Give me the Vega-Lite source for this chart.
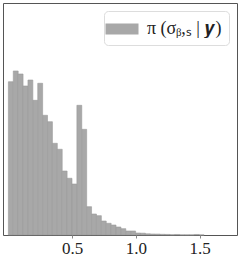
{
  "$schema": "https://vega.github.io/schema/vega-lite/v6.json",
  "width": 234,
  "height": 232,
  "autosize": "none",
  "padding": {"left": 3, "top": 3, "right": 4, "bottom": 22},
  "background": "white",
  "config": {
    "font": "Liberation Serif",
    "view": {"stroke": "#555555", "strokeWidth": 1},
    "axis": {"labelFont": "Liberation Serif", "labelFontSize": 17, "labelColor": "#222222"},
    "legend": {"labelFont": "Liberation Serif"}
  },
  "data": {
    "values": [
      {"b0": 0.0, "b1": 0.0384, "d": 2.643, "series": "posterior"},
      {"b0": 0.0384, "b1": 0.0768, "d": 2.828, "series": "posterior"},
      {"b0": 0.0768, "b1": 0.1152, "d": 2.776, "series": "posterior"},
      {"b0": 0.1152, "b1": 0.1536, "d": 2.569, "series": "posterior"},
      {"b0": 0.1536, "b1": 0.192, "d": 2.672, "series": "posterior"},
      {"b0": 0.192, "b1": 0.2304, "d": 2.322, "series": "posterior"},
      {"b0": 0.2304, "b1": 0.2688, "d": 2.616, "series": "posterior"},
      {"b0": 0.2688, "b1": 0.3072, "d": 2.064, "series": "posterior"},
      {"b0": 0.3072, "b1": 0.3456, "d": 1.953, "series": "posterior"},
      {"b0": 0.3456, "b1": 0.384, "d": 1.581, "series": "posterior"},
      {"b0": 0.384, "b1": 0.4224, "d": 1.478, "series": "posterior"},
      {"b0": 0.4224, "b1": 0.4608, "d": 1.103, "series": "posterior"},
      {"b0": 0.4608, "b1": 0.4992, "d": 0.978, "series": "posterior"},
      {"b0": 0.4992, "b1": 0.5376, "d": 0.879, "series": "posterior"},
      {"b0": 0.5376, "b1": 0.576, "d": 2.236, "series": "posterior"},
      {"b0": 0.576, "b1": 0.6144, "d": 1.822, "series": "posterior"},
      {"b0": 0.6144, "b1": 0.6528, "d": 0.488, "series": "posterior"},
      {"b0": 0.6528, "b1": 0.6912, "d": 0.362, "series": "posterior"},
      {"b0": 0.6912, "b1": 0.7296, "d": 0.333, "series": "posterior"},
      {"b0": 0.7296, "b1": 0.768, "d": 0.241, "series": "posterior"},
      {"b0": 0.768, "b1": 0.8064, "d": 0.202, "series": "posterior"},
      {"b0": 0.8064, "b1": 0.8448, "d": 0.172, "series": "posterior"},
      {"b0": 0.8448, "b1": 0.8832, "d": 0.138, "series": "posterior"},
      {"b0": 0.8832, "b1": 0.9216, "d": 0.109, "series": "posterior"},
      {"b0": 0.9216, "b1": 0.96, "d": 0.069, "series": "posterior"},
      {"b0": 0.96, "b1": 0.9984, "d": 0.069, "series": "posterior"},
      {"b0": 0.9984, "b1": 1.0368, "d": 0.034, "series": "posterior"},
      {"b0": 1.0368, "b1": 1.0752, "d": 0.031, "series": "posterior"},
      {"b0": 1.0752, "b1": 1.1136, "d": 0.021, "series": "posterior"},
      {"b0": 1.1136, "b1": 1.152, "d": 0.017, "series": "posterior"},
      {"b0": 1.152, "b1": 1.1904, "d": 0.016, "series": "posterior"},
      {"b0": 1.1904, "b1": 1.2288, "d": 0.012, "series": "posterior"},
      {"b0": 1.2288, "b1": 1.2672, "d": 0.010, "series": "posterior"},
      {"b0": 1.2672, "b1": 1.3056, "d": 0.005, "series": "posterior"},
      {"b0": 1.3056, "b1": 1.344, "d": 0.009, "series": "posterior"},
      {"b0": 1.344, "b1": 1.3824, "d": 0.003, "series": "posterior"},
      {"b0": 1.3824, "b1": 1.4208, "d": 0.003, "series": "posterior"},
      {"b0": 1.4208, "b1": 1.4592, "d": 0.003, "series": "posterior"},
      {"b0": 1.4592, "b1": 1.4976, "d": 0.009, "series": "posterior"},
      {"b0": 1.4976, "b1": 1.536, "d": 0.002, "series": "posterior"}
    ]
  },
  "mark": {"type": "bar", "stroke": "#9a9a9a", "strokeWidth": 0.6, "orient": "vertical"},
  "encoding": {
    "x": {
      "field": "b0", "type": "quantitative",
      "scale": {"domain": [-0.003, 1.755], "nice": false, "zero": false},
      "axis": {"values": [0.5, 1.0, 1.5], "format": ".1f", "title": null, "grid": false, "domain": false, "tickColor": "#888888", "tickSize": 3, "labelPadding": 2, "labelFlush": false}
    },
    "x2": {"field": "b1"},
    "y": {
      "field": "d", "type": "quantitative",
      "scale": {"domain": [0, 4], "nice": false},
      "axis": null
    },
    "y2": {"datum": 0},
    "color": {
      "field": "series", "type": "nominal",
      "scale": {"range": ["#a8a8a8"]},
      "legend": {
        "title": null,
        "orient": "top-right",
        "offset": 8,
        "padding": 7,
        "strokeColor": "#dddddd",
        "fillColor": "white",
        "cornerRadius": 4,
        "symbolType": "M-1.5,-0.5H1.5V0.5H-1.5Z",
        "symbolSize": 484,
        "symbolStrokeWidth": 0,
        "symbolOpacity": 1,
        "labelFont": "Liberation Serif",
        "labelFontSize": 18,
        "labelColor": "#222222",
        "labelOffset": 14,
        "labelLimit": 200,
        "labelExpr": "'π (σᵦ,ₛ | 𝒚)'"
      }
    }
  }
}
